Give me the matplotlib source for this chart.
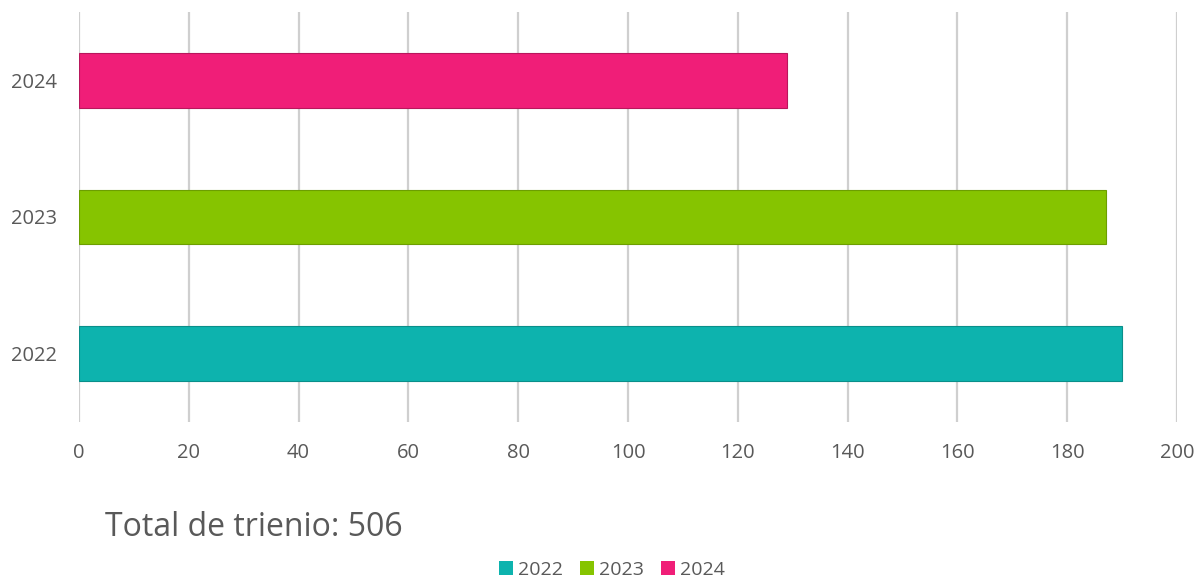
import matplotlib
matplotlib.use("Agg")
import matplotlib.pyplot as plt
from matplotlib.patches import Patch

categories = ["2022", "2023", "2024"]
values = [190, 187, 129]
colors = ["#0DB3AE", "#86C400", "#F01E78"]
edge_colors = ["#0A8F8A", "#6C9E00", "#B8175C"]
xticks = [0, 20, 40, 60, 80, 100, 120, 140, 160, 180, 200]
total_label = "Total de trienio: 506"

plt.rcParams['font.family'] = ['Open Sans', 'DejaVu Sans']

fig = plt.figure(figsize=(12.04, 5.82), dpi=100)
ax = fig.add_axes([79/1204, 1 - 422/582, (1177 - 79)/1204, (422 - 12)/582])

ypos = list(range(len(categories)))
ax.barh(ypos, values, height=0.4, color=colors, edgecolor=edge_colors, linewidth=0.8, zorder=3)

ax.set_xlim(0, 200)
ax.set_ylim(-0.5, 2.5)
ax.set_xticks(xticks)
ax.set_xticklabels([str(t) for t in xticks])
ax.set_yticks(ypos)
ax.set_yticklabels(categories)
ax.tick_params(axis='both', length=0, labelsize=14.5, colors="#595959")
ax.tick_params(axis='x', pad=15)
ax.tick_params(axis='y', pad=16)
ax.xaxis.grid(True, color="#CFCFCF", linewidth=1.6, zorder=0)
for s in ax.spines.values():
    s.set_visible(False)

fig.text(105/1204, 1 - 528/582, total_label, fontsize=23, color="#595959", va='center', ha='left')

handles = [Patch(facecolor=c, edgecolor='none', label=l) for c, l in zip(colors, categories)]
fig.legend(handles=handles, loc='center', bbox_to_anchor=(612/1204, 1 - 570/582), ncol=3,
           frameon=False, fontsize=14, labelcolor="#595959", handlelength=0.7, handleheight=0.7,
           handletextpad=0.25, columnspacing=0.9)

fig.savefig("out.png", dpi=100)
